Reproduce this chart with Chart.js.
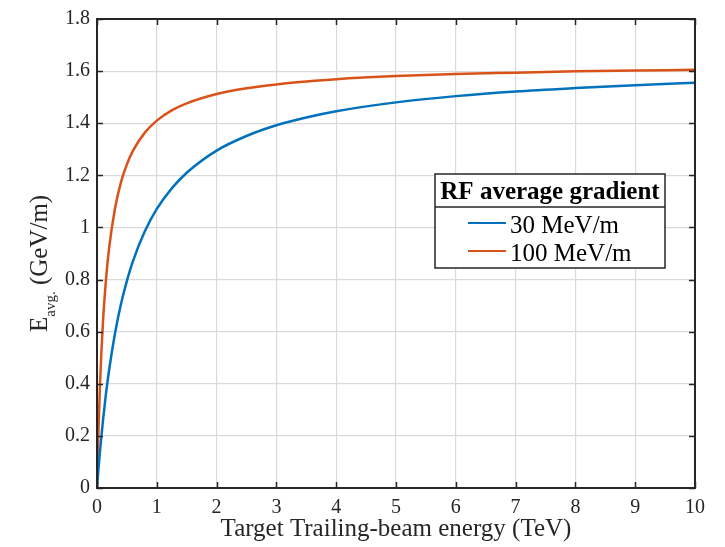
<!DOCTYPE html>
<html><head><meta charset="utf-8">
<script src="https://cdn.jsdelivr.net/npm/chart.js@4.4.1/dist/chart.umd.min.js"></script>
<style>html,body{margin:0;padding:0;background:#fff}#wrap{width:725px;height:547px}</style>
</head><body><div id="wrap"><canvas id="c" width="725" height="547"></canvas></div>
<script>
// ---- data ----
const energyTeV = [0, 0.02, 0.05, 0.1, 0.15, 0.2, 0.3, 0.4, 0.5, 0.6, 0.8, 1.0, 1.25, 1.5, 2, 2.5, 3, 3.5, 4, 5, 6, 7, 8, 9, 10];
const grad30MeV = [0, 0.060, 0.141, 0.260, 0.362, 0.449, 0.592, 0.705, 0.795, 0.870, 0.985, 1.071, 1.150, 1.210, 1.295, 1.351, 1.392, 1.422, 1.446, 1.480, 1.504, 1.522, 1.535, 1.546, 1.555];
const grad100MeV = [0, 0.185, 0.396, 0.637, 0.799, 0.916, 1.072, 1.173, 1.242, 1.294, 1.364, 1.410, 1.449, 1.476, 1.512, 1.534, 1.549, 1.560, 1.569, 1.581, 1.589, 1.594, 1.599, 1.602, 1.605];
const xTicks = [0, 1, 2, 3, 4, 5, 6, 7, 8, 9, 10];
const yTicks = [0, 0.2, 0.4, 0.6, 0.8, 1.0, 1.2, 1.4, 1.6, 1.8];
const seriesLabels = ['30 MeV/m', '100 MeV/m'];
const legendTitle = 'RF average gradient';
const xTitle = 'Target Trailing-beam energy (TeV)';
const yTitleMain = 'E', yTitleSub = 'avg.', yTitleUnit = ' (GeV/m)';

const SERIF = '"Liberation Serif", "Times New Roman", serif';
const INK = '#262626';

function pts(ys) { return energyTeV.map((x, i) => ({x: x, y: ys[i]})); }

const framePlugin = {
  id: 'frame',
  afterDraw(chart) {
    const ctx = chart.ctx, a = chart.chartArea, xs = chart.scales.x, ys = chart.scales.y;
    ctx.save();
    // ticks inward on all four sides
    ctx.strokeStyle = INK; ctx.lineWidth = 1.5;
    const L = 6;
    ctx.beginPath();
    xTicks.forEach(v => {
      const px = Math.round(xs.getPixelForValue(v)) + 0.5;
      ctx.moveTo(px, a.bottom); ctx.lineTo(px, a.bottom - L);
      ctx.moveTo(px, a.top); ctx.lineTo(px, a.top + L);
    });
    yTicks.forEach(v => {
      const py = Math.round(ys.getPixelForValue(v)) + 0.5;
      ctx.moveTo(a.left, py); ctx.lineTo(a.left + L, py);
      ctx.moveTo(a.right, py); ctx.lineTo(a.right - L, py);
    });
    ctx.stroke();
    // box
    ctx.lineWidth = 2;
    ctx.strokeRect(a.left, a.top, a.right - a.left, a.bottom - a.top);

    // legend
    const lx = 435, ly = 174, lw = 230, lh = 94, sep = 207;
    ctx.fillStyle = '#fff';
    ctx.fillRect(lx, ly, lw, lh);
    ctx.strokeStyle = INK; ctx.lineWidth = 1.5;
    ctx.strokeRect(lx, ly, lw, lh);
    ctx.beginPath(); ctx.moveTo(lx, sep); ctx.lineTo(lx + lw, sep); ctx.stroke();
    ctx.fillStyle = '#000';
    ctx.font = 'bold 25px ' + SERIF;
    ctx.textAlign = 'center'; ctx.textBaseline = 'alphabetic';
    ctx.fillText(legendTitle, lx + lw / 2, 199);
    ctx.font = '25px ' + SERIF;
    ctx.textAlign = 'left';
    const lineY = [223, 251], baseY = [233, 261];
    chart.data.datasets.forEach((ds, i) => {
      ctx.strokeStyle = ds.borderColor; ctx.lineWidth = 2;
      ctx.beginPath(); ctx.moveTo(468, lineY[i]); ctx.lineTo(506, lineY[i]); ctx.stroke();
      ctx.fillStyle = '#000';
      ctx.fillText(ds.label, 510, baseY[i]);
    });

    // y title with subscript
    ctx.fillStyle = INK;
    ctx.translate(47, 332);
    ctx.rotate(-Math.PI / 2);
    ctx.textAlign = 'left'; ctx.textBaseline = 'alphabetic';
    const fMain = '25px ' + SERIF, fSub = '15px ' + SERIF;
    ctx.font = fMain; const w1 = ctx.measureText(yTitleMain).width;
    ctx.font = fSub; const w2 = ctx.measureText(yTitleSub).width;
    ctx.font = fMain; ctx.fillText(yTitleMain, 0, 0);
    ctx.font = fSub; ctx.fillText(yTitleSub, w1, 8);
    ctx.font = fMain; ctx.fillText(yTitleUnit, w1 + w2, 0);
    ctx.restore();
  }
};

new Chart(document.getElementById('c'), {
  type: 'line',
  data: {
    datasets: [
      {label: seriesLabels[0], data: pts(grad30MeV), borderColor: '#0072BD', borderWidth: 2.5, pointRadius: 0, cubicInterpolationMode: 'monotone', fill: false},
      {label: seriesLabels[1], data: pts(grad100MeV), borderColor: '#D95319', borderWidth: 2.5, pointRadius: 0, cubicInterpolationMode: 'monotone', fill: false}
    ]
  },
  options: {
    responsive: false,
    animation: false,
    devicePixelRatio: 1,
    layout: {padding: {left: 0, right: 30, top: 15, bottom: 0}},
    plugins: {legend: {display: false}, tooltip: {enabled: false}},
    scales: {
      x: {
        type: 'linear', min: 0, max: 10,
        afterBuildTicks: s => { s.ticks = xTicks.map(v => ({value: v})); },
        afterFit: s => { s.height = 59; },
        grid: {color: '#dadada', lineWidth: 1.2, drawTicks: false},
        border: {display: false},
        ticks: {color: INK, font: {family: SERIF, size: 20}, padding: 8, maxRotation: 0, callback: v => String(v)},
        title: {display: true, text: xTitle, color: INK, font: {family: SERIF, size: 25}, padding: {top: 0, bottom: 3}}
      },
      y: {
        type: 'linear', min: 0, max: 1.8,
        afterBuildTicks: s => { s.ticks = yTicks.map(v => ({value: v})); },
        afterFit: s => { s.width = 97; },
        grid: {color: '#dadada', lineWidth: 1.2, drawTicks: false},
        border: {display: false},
        ticks: {color: INK, font: {family: SERIF, size: 20}, padding: 7, callback: v => String(Math.round(v * 10) / 10)}
      }
    }
  },
  plugins: [framePlugin]
});
</script>
</body></html>
